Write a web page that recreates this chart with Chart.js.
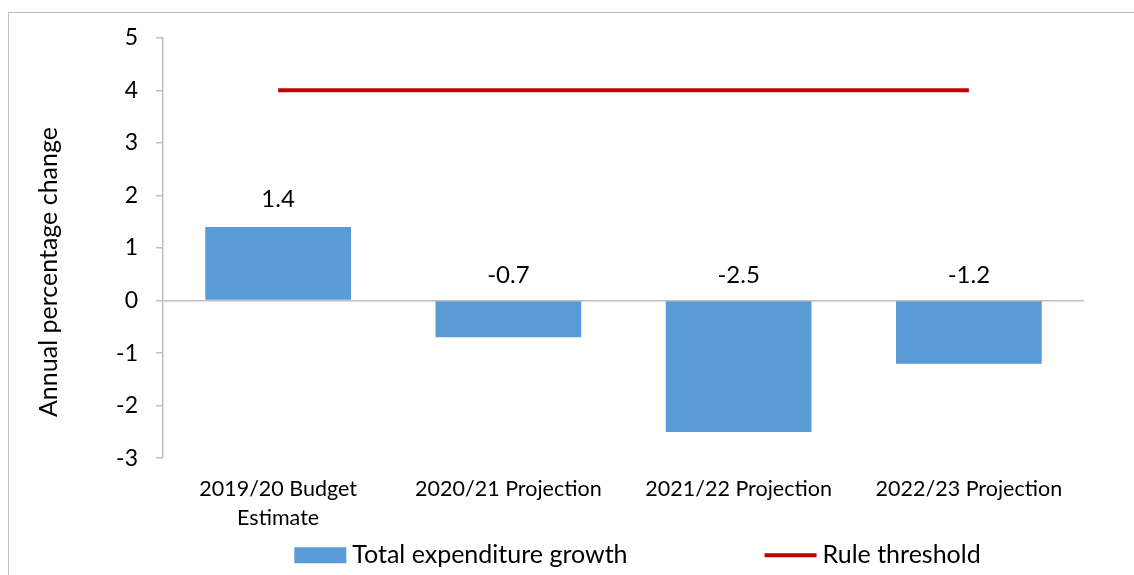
<!DOCTYPE html>
<html>
<head>
<meta charset="utf-8">
<script src="https://cdn.jsdelivr.net/npm/chart.js@4/dist/chart.umd.min.js"></script>
<style>
  html, body { margin: 0; padding: 0; background: #fff; overflow: hidden; }
  #frame {
    position: absolute; left: 8px; top: 12px;
    width: 1200px; height: 600px;
    border: 1.5px solid #BFBFBF; box-sizing: border-box;
  }
  #plot { position: absolute; left: 0; top: -7px; width: 1197px; height: 604px; }
  #plot canvas { display: block; }
</style>
</head>
<body>
<div id="frame"><div id="plot"><canvas id="chart"></canvas></div></div>
<script>
// Expenditure growth vs. the fiscal rule threshold
const categories = [["2019/20 Budget", "Estimate"], "2020/21 Projection", "2021/22 Projection", "2022/23 Projection"];
const expenditureGrowth = [1.4, -0.7, -2.5, -1.2];
const ruleThreshold = [4, 4, 4, 4];
const yTicks = [-3, -2, -1, 0, 1, 2, 3, 4, 5];

const FONT = "Lato, 'Open Sans', sans-serif";
const TEXT = '#000000';
const AXIS = '#BFBFBF';

// Value labels: above the bar top for gains, above the baseline for falls
const valueLabels = {
  id: 'valueLabels',
  afterDatasetsDraw(chart) {
    const { ctx, scales: { y } } = chart;
    const meta = chart.getDatasetMeta(0);
    ctx.save();
    ctx.font = `24px ${FONT}`;
    ctx.fillStyle = TEXT;
    ctx.textAlign = 'center';
    ctx.textBaseline = 'middle';
    expenditureGrowth.forEach((v, i) => {
      const bar = meta.data[i];
      const yy = y.getPixelForValue(Math.max(v, 0)) - (v > 0 ? 28 : 25);
      ctx.fillText(v.toFixed(1), bar.x, yy);
    });
    ctx.restore();
  }
};

// Rotated y-axis caption
const yCaption = {
  id: 'yCaption',
  afterDraw(chart) {
    const { ctx, chartArea } = chart;
    ctx.save();
    ctx.translate(chartArea.left - 114, (chartArea.top + chartArea.bottom) / 2 + 24);
    ctx.rotate(-Math.PI / 2);
    ctx.font = `25px ${FONT}`;
    ctx.fillStyle = TEXT;
    ctx.textAlign = 'center';
    ctx.textBaseline = 'middle';
    ctx.fillText('Annual percentage change', 0, 0);
    ctx.restore();
  }
};

// Single-row legend under the axis labels
const legendRow = {
  id: 'legendRow',
  afterDraw(chart) {
    const { ctx, chartArea } = chart;
    const ds = chart.data.datasets;
    const swatch = 52, gapText = 6, gapItems = 137;
    ctx.save();
    ctx.font = `25px ${FONT}`;
    ctx.textBaseline = 'middle';
    ctx.textAlign = 'left';
    const widths = ds.map(d => swatch + gapText + ctx.measureText(d.label).width);
    const total = widths.reduce((a, b) => a + b, 0) + gapItems * (ds.length - 1);
    let x = (chartArea.left + chartArea.right) / 2 + 14 - total / 2;
    const yc = chartArea.bottom + 97;
    ds.forEach((d, i) => {
      if (d.type === 'line') {
        ctx.strokeStyle = d.borderColor;
        ctx.lineWidth = d.borderWidth;
        ctx.beginPath();
        ctx.moveTo(x, yc);
        ctx.lineTo(x + swatch, yc);
        ctx.stroke();
      } else {
        ctx.fillStyle = d.backgroundColor;
        ctx.fillRect(x, yc - 8, swatch, 16);
      }
      ctx.fillStyle = TEXT;
      ctx.fillText(d.label, x + swatch + gapText, yc);
      x += widths[i] + gapItems;
    });
    ctx.restore();
  }
};

new Chart(document.getElementById('chart'), {
  data: {
    labels: categories,
    datasets: [
      {
        type: 'bar',
        label: 'Total expenditure growth',
        data: expenditureGrowth,
        backgroundColor: '#5B9BD5',
        borderWidth: 0,
        categoryPercentage: 1,
        barPercentage: 0.633,
        order: 2
      },
      {
        type: 'line',
        label: 'Rule threshold',
        data: ruleThreshold,
        borderColor: '#C00000',
        borderWidth: 4,
        pointRadius: 0,
        fill: false,
        order: 1
      }
    ]
  },
  options: {
    responsive: true,
    maintainAspectRatio: false,
    animation: false,
    layout: { padding: { top: 18, right: 122, bottom: 69, left: 0 } },
    plugins: {
      legend: { display: false },
      tooltip: { enabled: false }
    },
    scales: {
      x: {
        grid: { display: false },
        border: { display: false },
        ticks: {
          color: TEXT,
          font: { family: FONT, size: 21.5, lineHeight: 1.32 },
          padding: 9,
          maxRotation: 0,
          autoSkip: false
        }
      },
      y: {
        min: -3,
        max: 5,
        afterBuildTicks(scale) { scale.ticks = yTicks.map(v => ({ value: v })); },
        afterFit(scale) { scale.width = 154; },
        grid: {
          color: c => (c.tick && c.tick.value === 0 ? AXIS : 'rgba(0,0,0,0)'),
          lineWidth: 1.5,
          tickColor: AXIS,
          tickLength: 7,
          drawTicks: true
        },
        border: { display: true, color: AXIS, width: 1.5 },
        ticks: {
          color: TEXT,
          font: { family: FONT, size: 23 },
          padding: 18
        }
      }
    }
  },
  plugins: [valueLabels, yCaption, legendRow]
});
</script>
</body>
</html>
